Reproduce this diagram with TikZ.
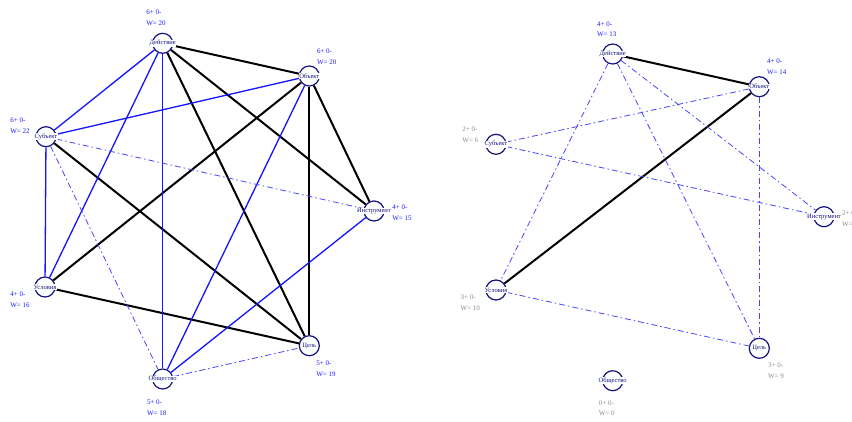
\documentclass[tikz,border=0pt]{standalone}
\usepackage{fontspec}
\setmainfont{Liberation Serif}
\definecolor{navyc}{RGB}{20,20,128}
\definecolor{edgeblue}{RGB}{20,20,255}
\definecolor{dashblue}{RGB}{70,70,255}
\definecolor{lblblue}{RGB}{30,30,255}
\definecolor{lblgray}{RGB}{140,140,140}
\begin{document}
\begin{tikzpicture}[x=1pt,y=-1pt,
  vertex/.style={circle,draw=navyc,line width=1.2pt,minimum size=20pt,inner sep=0pt},
  vname/.style={fill=white,text=navyc,font=\fontsize{6.5}{7}\selectfont,inner sep=0.4pt},
  wlabel/.style={font=\fontsize{7}{10.6}\selectfont,align=left,inner sep=0pt},
  strong/.style={black,line width=2pt},
  link/.style={edgeblue,line width=1.3pt},
  weak/.style={dashblue,line width=0.8pt,dash pattern=on 6pt off 3pt on 1.5pt off 3pt},
]
\useasboundingbox (0,0) rectangle (852,421);
\clip (0,0) rectangle (852,421);
\fill[white] (0,0) rectangle (852,421);

% ---------- left graph: vertices ----------
\node[vertex] (lDe) at (162.7,43.3) {};
\node[vertex] (lOb) at (309.3,76) {};
\node[vertex] (lSu) at (46,136.7) {};
\node[vertex] (lIn) at (374,211) {};
\node[vertex] (lUs) at (45,287) {};
\node[vertex] (lCe) at (309.3,345.7) {};
\node[vertex] (lOs) at (162.7,379) {};

% ---------- left graph: edges ----------
\draw[strong] (lDe) -- (lOb);
\draw[strong] (lDe) -- (lIn);
\draw[strong] (lDe) -- (lCe);
\draw[strong] (lOb) -- (lUs);
\draw[strong] (lOb) -- (lCe);
\draw[strong] (lOb) -- (lIn);
\draw[strong] (lSu) -- (lCe);
\draw[strong] (lUs) -- (lCe);
\draw[link] (lDe) -- (lSu);
\draw[link] (lDe) -- (lUs);
\draw[link] (lDe) -- (lOs);
\draw[link] (lSu) -- (lOb);
\draw[link] (lSu) -- (lUs);
\draw[link] (lOb) -- (lOs);
\draw[link] (lIn) -- (lOs);
\draw[weak] (lSu) -- (lIn);
\draw[weak] (lSu) -- (lOs);
\draw[weak] (lOs) -- (lCe);

% ---------- left graph: names ----------
\node[vname] (lDe-t) at (lDe) {Действие};
\node[vname] (lOb-t) at (lOb) {Объект};
\node[vname] (lSu-t) at (lSu) {Субъект};
\node[vname] (lIn-t) at (lIn) {Инструмент};
\node[vname] (lUs-t) at (lUs) {Условия};
\node[vname] (lCe-t) at (lCe) {Цель};
\node[vname] (lOs-t) at (lOs) {Общество};

% ---------- left graph: weights ----------
\node[wlabel,text=lblblue] (lDe-w) at (156,18) {6+ 0-\\W= 20};
\node[wlabel,text=lblblue] (lOb-w) at (326.7,57) {6+ 0-\\W= 20};
\node[wlabel,text=lblblue] (lSu-w) at (20,126) {6+ 0-\\W= 22};
\node[wlabel,text=lblblue] (lIn-w) at (402,212.5) {4+ 0-\\W= 15};
\node[wlabel,text=lblblue] (lUs-w) at (20,299.5) {4+ 0-\\W= 16};
\node[wlabel,text=lblblue] (lCe-w) at (326,369) {5+ 0-\\W= 19};
\node[wlabel,text=lblblue] (lOs-w) at (156.7,407.5) {5+ 0-\\W= 18};

% ---------- right graph: vertices ----------
\node[vertex] (rDe) at (612.7,54) {};
\node[vertex] (rOb) at (759.3,86.7) {};
\node[vertex] (rSu) at (496,144.3) {};
\node[vertex] (rIn) at (824,216.7) {};
\node[vertex] (rUs) at (496,290) {};
\node[vertex] (rCe) at (759.3,348.3) {};
\node[vertex] (rOs) at (612.7,380.7) {};

% ---------- right graph: edges ----------
\draw[strong] (rDe) -- (rOb);
\draw[strong] (rOb) -- (rUs);
\draw[weak] (rDe) -- (rUs);
\draw[weak] (rDe) -- (rCe);
\draw[weak] (rDe) -- (rIn);
\draw[weak] (rOb) -- (rSu);
\draw[weak] (rOb) -- (rCe);
\draw[weak] (rSu) -- (rIn);
\draw[weak] (rUs) -- (rCe);

% ---------- right graph: names ----------
\node[vname] (rDe-t) at (rDe) {Действие};
\node[vname] (rOb-t) at (rOb) {Объект};
\node[vname] (rSu-t) at (rSu) {Субъект};
\node[vname] (rIn-t) at (rIn) {Инструмент};
\node[vname] (rUs-t) at (rUs) {Условия};
\node[vname] (rCe-t) at (rCe) {Цель};
\node[vname] (rOs-t) at (rOs) {Общество};

% ---------- right graph: weights ----------
\node[wlabel,text=lblblue] (rDe-w) at (606.7,29.2) {4+ 0-\\W= 13};
\node[wlabel,text=lblblue] (rOb-w) at (776.7,66.9) {4+ 0-\\W= 14};
\node[wlabel,text=lblgray] (rSu-w) at (470.3,134.5) {2+ 0-\\W= 6};
\node[wlabel,text=lblgray,anchor=west] (rIn-w) at (842,218.7) {2+ 0-\\W= 4};
\node[wlabel,text=lblgray] (rUs-w) at (470.3,303) {3+ 0-\\W= 10};
\node[wlabel,text=lblgray] (rCe-w) at (776,370.7) {3+ 0-\\W= 9};
\node[wlabel,text=lblgray] (rOs-w) at (606.7,408.3) {0+ 0-\\W= 0};
\end{tikzpicture}
\end{document}
